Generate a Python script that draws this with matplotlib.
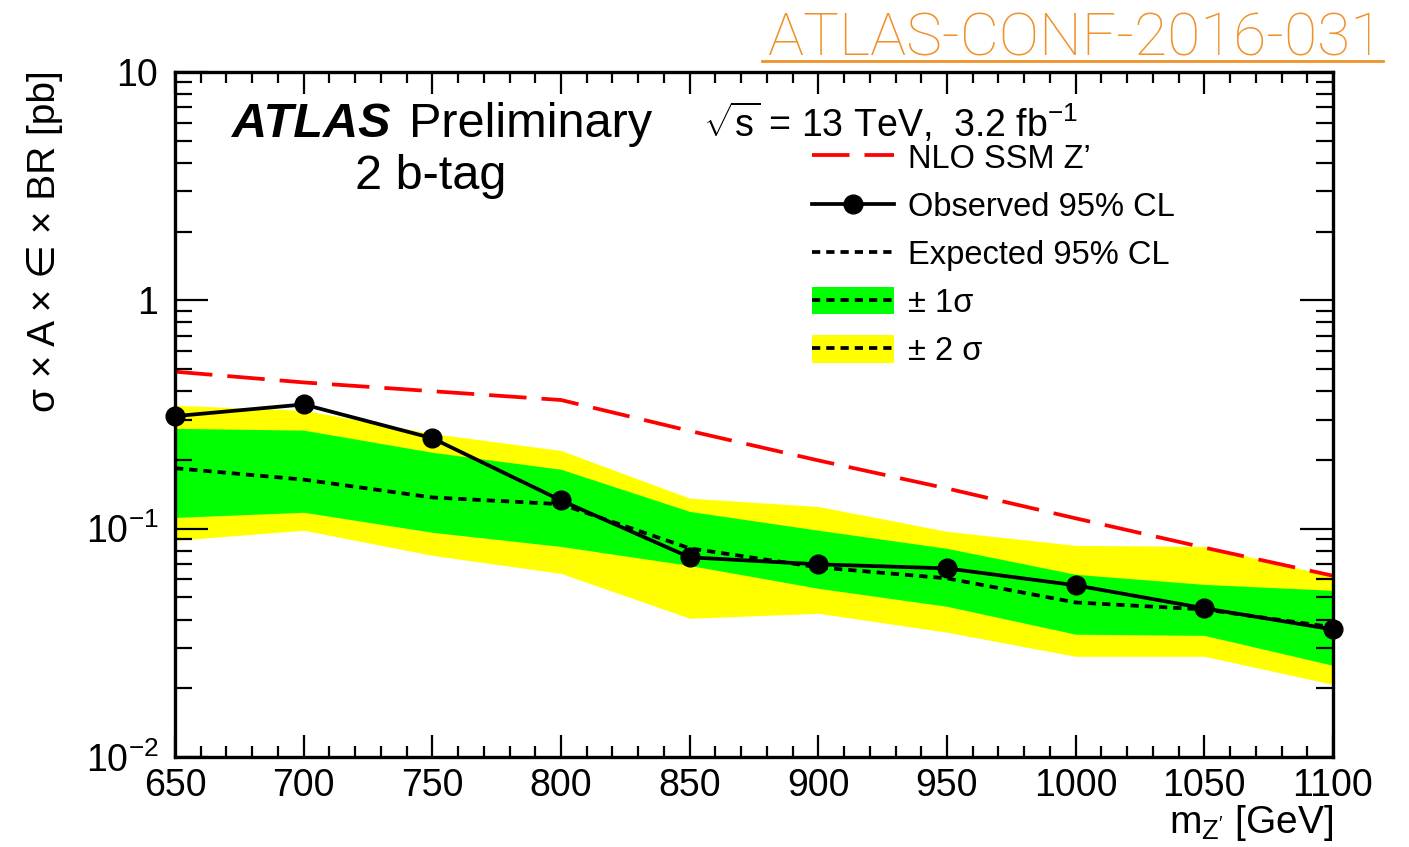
import matplotlib
matplotlib.use("Agg")
import matplotlib.pyplot as plt
from matplotlib.lines import Line2D
from matplotlib.patches import Patch
from matplotlib.ticker import FixedLocator, FixedFormatter, LogLocator, NullFormatter, MultipleLocator

plt.rcParams['font.family'] = ['Liberation Sans', 'DejaVu Sans']
plt.rcParams['mathtext.fontset'] = 'custom'
plt.rcParams['mathtext.rm'] = 'Liberation Sans'
plt.rcParams['mathtext.it'] = 'Liberation Sans:italic'
plt.rcParams['mathtext.bf'] = 'Liberation Sans:bold'

# Z' mass points [GeV]
mass = [650, 700, 750, 800, 850, 900, 950, 1000, 1050, 1100]

# 95% CL limits on sigma x A x eff x BR [pb]
observed = [0.311, 0.350, 0.249, 0.133, 0.0749, 0.0698, 0.0670, 0.0565, 0.0448, 0.0362]
expected = [0.184, 0.164, 0.137, 0.128, 0.0820, 0.0677, 0.0606, 0.0475, 0.0443, 0.0370]
band1_hi = [0.275, 0.270, 0.216, 0.182, 0.119, 0.0984, 0.0820, 0.0631, 0.0570, 0.0537]
band1_lo = [0.112, 0.118, 0.0964, 0.0836, 0.0690, 0.0548, 0.0457, 0.0345, 0.0341, 0.0252]
band2_hi = [0.347, 0.330, 0.261, 0.220, 0.136, 0.125, 0.0973, 0.0845, 0.0836, 0.0618]
band2_lo = [0.0889, 0.0984, 0.0764, 0.0637, 0.0405, 0.0426, 0.0352, 0.0276, 0.0276, 0.0208]

# NLO SSM Z' theory cross section [pb]
theory = [0.487, 0.437, 0.400, 0.366, 0.268, 0.199, 0.150, 0.111, 0.0826, 0.0622]

ytick_vals = [0.01, 0.1, 1, 10]
ytick_text = [r'$\mathregular{10^{-2}}$', r'$\mathregular{10^{-1}}$', '1', '10']

LW = 2.7
EXP_LS = (0, (2.2, 1.6))
TH_LS = (0, (10, 4))

W, H = 1409, 847
fig = plt.figure(figsize=(W / 100, H / 100), dpi=100)
ax = fig.add_axes([175 / W, 1 - 757 / H, (1333 - 175) / W, (757 - 72) / H])

ax.fill_between(mass, band2_lo, band2_hi, color='#ffff00', lw=0)
ax.fill_between(mass, band1_lo, band1_hi, color='#00ff00', lw=0)
ax.plot(mass, expected, color='black', lw=LW, ls=EXP_LS)
ax.plot(mass, theory, color='#ff0000', lw=LW, ls=TH_LS)
ax.plot(mass, observed, color='black', lw=LW, marker='o', ms=13.5, clip_on=False, zorder=5)

ax.set_yscale('log')
ax.set_xlim(650, 1100)
ax.set_ylim(0.01, 10)

ax.xaxis.set_major_locator(MultipleLocator(50))
ax.xaxis.set_minor_locator(MultipleLocator(10))
ax.yaxis.set_major_locator(FixedLocator(ytick_vals))
ax.yaxis.set_major_formatter(FixedFormatter(ytick_text))
ax.yaxis.set_minor_locator(LogLocator(base=10, subs=range(2, 10)))
ax.yaxis.set_minor_formatter(NullFormatter())

ax.tick_params(which='both', direction='in', top=True, right=True, width=1.6, labelsize=27)
ax.tick_params(axis='x', which='major', length=15.8, pad=8)
ax.tick_params(axis='x', which='minor', length=7.9)
ax.tick_params(axis='y', which='major', length=23.8, pad=12)
ax.tick_params(axis='y', which='minor', length=12.2)
for s in ax.spines.values():
    s.set_linewidth(2.4)

fig.text(45 / W, 1 - 70 / H, 'σ × A × ∈ × BR [pb]', rotation=90, ha='center', va='top', fontsize=28)
fig.text(1333 / W, 1 - 833 / H, r"m$_{\mathregular{Z'}}$ [GeV]", ha='right', va='baseline', fontsize=28)

fig.text(232 / W, 1 - 137 / H, 'ATLAS', fontsize=35, fontweight='bold', fontstyle='italic', va='baseline')
fig.text(409 / W, 1 - 137 / H, 'Preliminary', fontsize=35, va='baseline')
fig.text(355 / W, 1 - 189 / H, '2 b-tag', fontsize=35, va='baseline')
fig.text(703 / W, 1 - 137 / H, r'$\sqrt{\mathregular{s}}$ = 13 TeV,  3.2 fb$^{\mathregular{-1}}$',
         fontsize=27, va='baseline')

fig.text(1383 / W, 1 - 55 / H, 'ATLAS-CONF-2016-031', fontsize=43.5, color='#f0922b',
         family=['Roboto', 'Liberation Sans'], fontweight='light', ha='right', va='baseline')
fig.add_artist(Line2D([762 / W, 1383 / W], [1 - 61 / H, 1 - 61 / H], color='#f0922b', lw=2))

handles = [
    Line2D([], [], color='#ff0000', lw=LW, ls=TH_LS),
    Line2D([], [], color='black', lw=LW, marker='o', ms=13.5),
    Line2D([], [], color='black', lw=LW, ls=EXP_LS),
    (Patch(color='#00ff00', lw=0), Line2D([], [], color='black', lw=LW, ls=EXP_LS)),
    (Patch(color='#ffff00', lw=0), Line2D([], [], color='black', lw=LW, ls=EXP_LS)),
]
labels = ["NLO SSM Z’", 'Observed 95% CL', 'Expected 95% CL', '± 1σ', '± 2 σ']
fig.legend(handles, labels, loc='upper left', bbox_to_anchor=(812 / W, 1 - 143 / H),
           frameon=False, borderpad=0, borderaxespad=0, fontsize=23.5, handlelength=2.5,
           handleheight=0.9, handletextpad=0.45, labelspacing=0.5)

fig.savefig('out.png', dpi=100)
